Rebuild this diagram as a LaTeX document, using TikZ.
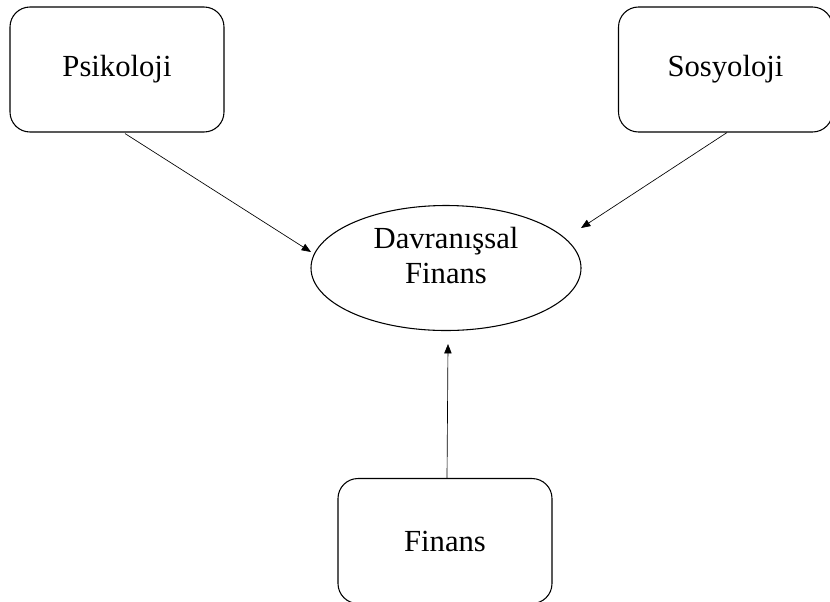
\documentclass[tikz,border=0pt]{standalone}
\usepackage{fontspec}
\setmainfont{Liberation Serif}
\usetikzlibrary{arrows.meta, shapes.geometric, calc}

\begin{document}
\begin{tikzpicture}
[
    x = 0.75pt, y = -0.75pt,
    kutu/.style = {draw, rounded corners = 15pt, line width = 0.8pt,
        minimum width = 160.5pt, minimum height = 93.75pt,
        font = \fontsize{23}{26}\selectfont},
    elips/.style = {draw, ellipse, line width = 0.8pt, inner sep = 0pt,
        minimum width = 202.5pt, minimum height = 93.75pt, align = center,
        text depth = 19pt, font = \fontsize{23}{26.5}\selectfont},
    ok/.style = {-{Triangle[length = 7pt, width = 5.5pt]}, line width = 0.5pt}
]
\clip (0,0) rectangle (830,601);
\useasboundingbox (0,0) rectangle (830,601);
\node[kutu] (psikoloji) at (117,69.5) {Psikoloji};
\node[kutu] (sosyoloji) at (725.5,69.5) {Sosyoloji};
\node[elips] (davranissal) at (446,268) {Davranışsal\\Finans};
\node[kutu] (finans) at (445,541) {Finans};
\draw[ok] ($(psikoloji.south)+(8,1)$) -- ($(davranissal.center)+(-135,-16)$);
\draw[ok] ($(sosyoloji.south)+(1.5,0)$) -- ($(davranissal.center)+(135,-40)$);
\draw[ok] ($(finans.north)+(2,0)$) -- ($(davranissal.south)+(2,13)$);
\end{tikzpicture}
\end{document}
